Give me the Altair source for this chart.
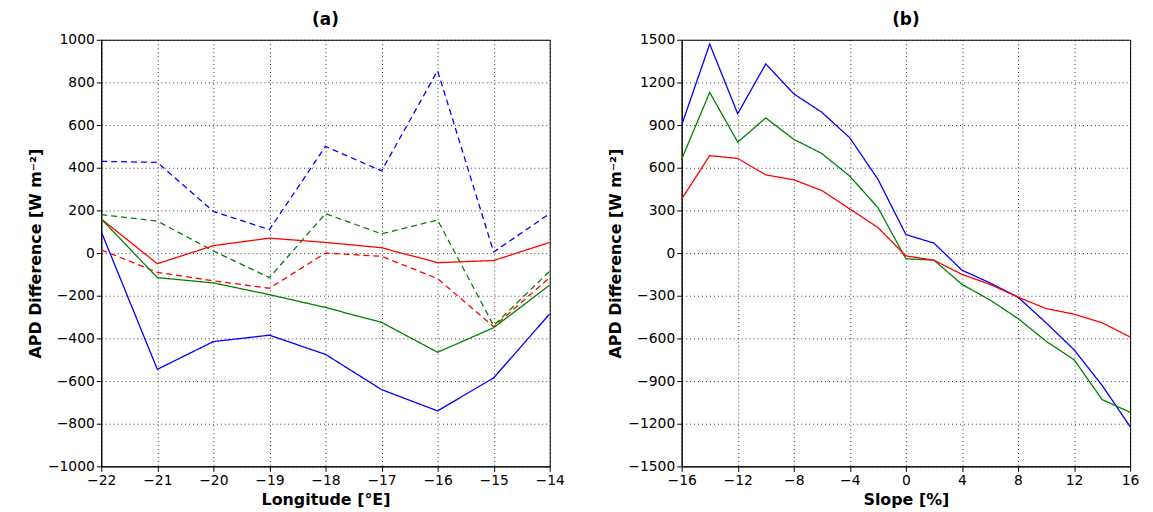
import altair as alt
import pandas as pd

lon = [-22, -21, -20, -19, -18, -17, -16, -15, -14]
a_blue_dash = [430, 425, 195, 110, 500, 385, 855, 5, 185]
a_green_dash = [180, 150, 10, -115, 185, 90, 155, -340, -85]
a_red_dash = [15, -90, -130, -165, 0, -15, -120, -345, -115]
a_red = [160, -50, 35, 70, 50, 25, -45, -35, 50]
a_green = [160, -115, -140, -195, -255, -325, -465, -350, -150]
a_blue = [100, -545, -415, -385, -475, -640, -740, -585, -285]

slope = list(range(-16, 17, 2))
b_blue = [900, 1470, 980, 1330, 1120, 990, 810, 520, 130, 70, -120, -210, -310, -490, -680, -930, -1220]
b_green = [660, 1130, 780, 950, 800, 700, 540, 320, -40, -50, -220, -330, -460, -620, -750, -1030, -1120]
b_red = [380, 685, 665, 550, 515, 440, 310, 180, -20, -50, -150, -220, -310, -390, -430, -490, -590]


def long_df(xs, series):
    rows = []
    for name, color, dash, vals in series:
        for x, v in zip(xs, vals):
            rows.append({"x": x, "y": v, "s": name, "c": color, "d": dash})
    return pd.DataFrame(rows)


df_a = long_df(lon, [
    ("bd", "blue", "dash", a_blue_dash), ("gd", "green", "dash", a_green_dash),
    ("rd", "red", "dash", a_red_dash), ("r", "red", "solid", a_red),
    ("g", "green", "solid", a_green), ("b", "blue", "solid", a_blue),
])
df_b = long_df(slope, [
    ("b", "blue", "solid", b_blue), ("g", "green", "solid", b_green),
    ("r", "red", "solid", b_red),
])

ylab = "APD Difference  [W m⁻²]"


def panel(df, title, xtitle, xdom, xvals, ydom, yvals):
    return (
        alt.Chart(df, title=alt.Title(title, fontSize=17, fontWeight="bold", font="DejaVu Sans"))
        .mark_line(strokeWidth=1.3, clip=True)
        .encode(
            x=alt.X("x:Q", title=xtitle, scale=alt.Scale(domain=xdom, nice=False, zero=False, padding=0),
                    axis=alt.Axis(values=xvals, format="d")),
            y=alt.Y("y:Q", title=ylab, scale=alt.Scale(domain=ydom, nice=False, padding=0),
                    axis=alt.Axis(values=yvals, format="d")),
            color=alt.Color("c:N", scale=None),
            strokeDash=alt.StrokeDash("d:N", scale=alt.Scale(domain=["solid", "dash"], range=[[1, 0], [6, 4]]), legend=None),
            detail="s:N",
        )
        .properties(width=452, height=430)
    )


pa = panel(df_a, "(a)", "Longitude  [°E]", [-22, -14], lon, [-1000, 1000], list(range(-1000, 1001, 200)))
pb = panel(df_b, "(b)", "Slope  [%]", [-16, 16], list(range(-16, 17, 4)), [-1500, 1500], list(range(-1500, 1501, 300)))

chart = (
    alt.hconcat(pa, pb, spacing=42)
    .properties(padding={"left": 19, "top": 0, "right": 5, "bottom": 5})
    .configure_view(stroke="black", strokeWidth=1)
    .configure_axis(
        grid=True, gridColor="black", gridDash=[1, 3], gridOpacity=0.8,
        domainColor="black", tickColor="black", labelColor="black", titleColor="black",
        labelFont="DejaVu Sans", titleFont="DejaVu Sans", labelFontSize=14,
        titleFontSize=16, titleFontWeight="bold", tickSize=5, labelFlush=False,
    )
    .configure_title(offset=0)
)
chart.save("out.html", embed_options={"renderer": "svg", "actions": False})
